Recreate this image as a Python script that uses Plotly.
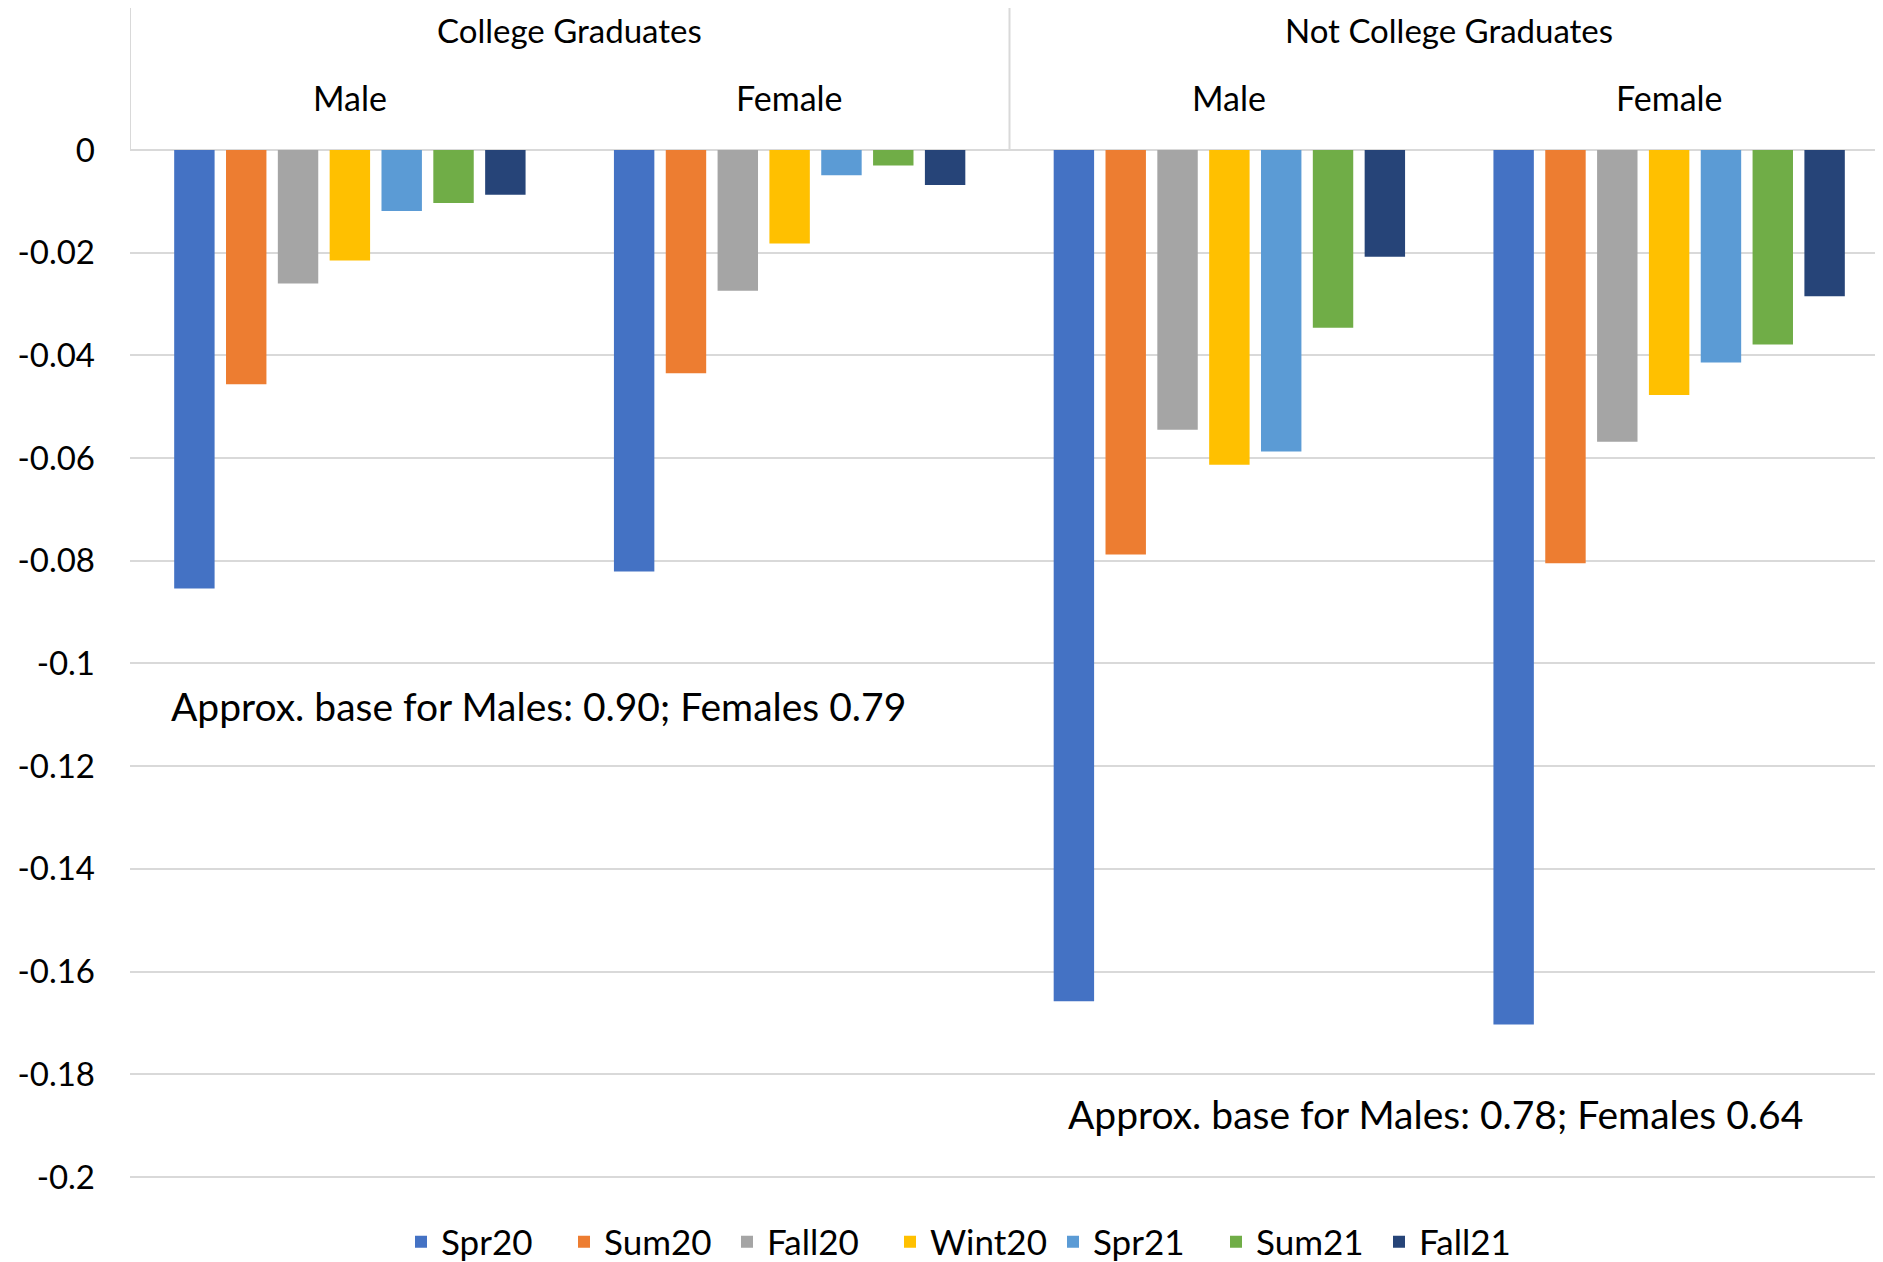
import plotly.graph_objects as go

# ---- data ----
groups = ["College Graduates", "Not College Graduates"]
sexes = ["Male", "Female"]
categories = ["CG Male", "CG Female", "NCG Male", "NCG Female"]

series_names = ["Spr20", "Sum20", "Fall20", "Wint20", "Spr21", "Sum21", "Fall21"]
spr20 = [-0.0854, -0.0821, -0.1658, -0.1703]
sum20 = [-0.0456, -0.0435, -0.0788, -0.0805]
fall20 = [-0.0260, -0.0274, -0.0545, -0.0568]
wint20 = [-0.0215, -0.0182, -0.0613, -0.0477]
spr21 = [-0.0119, -0.0049, -0.0587, -0.0414]
sum21 = [-0.0103, -0.0030, -0.0346, -0.0379]
fall21 = [-0.0087, -0.0068, -0.0208, -0.0285]
series_values = [spr20, sum20, fall20, wint20, spr21, sum21, fall21]

tick_values = [0, -0.02, -0.04, -0.06, -0.08, -0.1, -0.12, -0.14, -0.16, -0.18, -0.2]
tick_labels = ["0", "-0.02", "-0.04", "-0.06", "-0.08", "-0.1", "-0.12", "-0.14", "-0.16", "-0.18", "-0.2"]

notes = ["Approx. base for Males: 0.90; Females 0.79",
         "Approx. base for Males: 0.78; Females 0.64"]

# ---- style ----
colors = ["#4472C4", "#ED7D31", "#A5A5A5", "#FFC000", "#5B9BD5", "#70AD47", "#264478"]
FONT = "Lato"
grid_color = "#D9D9D9"

fig = go.Figure()
for name, vals, col in zip(series_names, series_values, colors):
    fig.add_trace(go.Bar(x=categories, y=vals, name=name,
                         marker=dict(color=col, line=dict(width=0))))

# page has an 8px body offset; compensate
OFF = 8
W, H = 1883 - OFF, 1262 - OFF
ml, mr, mt, mb = 130 - OFF, 0, 150 - OFF, 83
plot_h = H - mt - mb
plot_w = W - ml - mr
x_hi = -0.5 + 1753 / 439.75  # plot extends slightly past the window in the original

def px_to_paper_x(page_x):
    return (page_x - OFF - ml) / plot_w

def px_to_paper_y(page_y):
    return 1 + ((mt + OFF) - page_y) / plot_h

shapes = []
for xv in [-0.5, 1.5]:
    shapes.append(dict(type="line", xref="x", yref="paper", x0=xv, x1=xv,
                       y0=1, y1=px_to_paper_y(6), line=dict(color=grid_color, width=2)))

annotations = []
for i, g in enumerate(groups):
    annotations.append(dict(text=g, xref="x", yref="paper", x=0.5 + 2 * i,
                            y=px_to_paper_y(30), showarrow=False,
                            xanchor="center", yanchor="middle",
                            font=dict(family=FONT, size=33, color="black")))
    for j, s in enumerate(sexes):
        annotations.append(dict(text=s, xref="x", yref="paper",
                                x=2 * i + j,
                                y=px_to_paper_y(97), showarrow=False,
                                xanchor="center", yanchor="middle",
                                font=dict(family=FONT, size=34, color="black")))

annotations.append(dict(text=notes[0], xref="paper", yref="y", x=px_to_paper_x(169),
                        y=-0.1083, showarrow=False, xanchor="left", yanchor="middle",
                        font=dict(family=FONT, size=39, color="black")))
annotations.append(dict(text=notes[1], xref="paper", yref="y", x=px_to_paper_x(1066),
                        y=-0.1877, showarrow=False, xanchor="left", yanchor="middle",
                        font=dict(family=FONT, size=39, color="black")))

fig.update_layout(
    width=W, height=H,
    margin=dict(l=ml, r=mr, t=mt, b=mb, pad=0, autoexpand=False),
    paper_bgcolor="white", plot_bgcolor="white",
    barmode="group", bargap=0.175, bargroupgap=0.22,
    font=dict(family=FONT, size=30, color="black"),
    showlegend=True,
    legend=dict(orientation="h", x=px_to_paper_x(401), xanchor="left",
                y=-63 / plot_h, yanchor="middle",
                font=dict(family=FONT, size=35, color="black"),
                itemwidth=30, traceorder="normal",
                entrywidth=118, entrywidthmode="pixels"),
    shapes=shapes, annotations=annotations,
)
fig.update_xaxes(range=[-0.5, x_hi], showticklabels=False, showgrid=False,
                 zeroline=False, showline=False, ticks="")
fig.update_yaxes(range=[-0.2004, 0], tickmode="array", tickvals=tick_values,
                 ticktext=tick_labels, showgrid=True, gridcolor=grid_color,
                 gridwidth=2, zeroline=True, zerolinecolor=grid_color,
                 zerolinewidth=2, showline=False, ticks="",
                 ticklabelstandoff=34,
                 tickfont=dict(family=FONT, size=33, color="black"))

fig.write_html("out.html")
